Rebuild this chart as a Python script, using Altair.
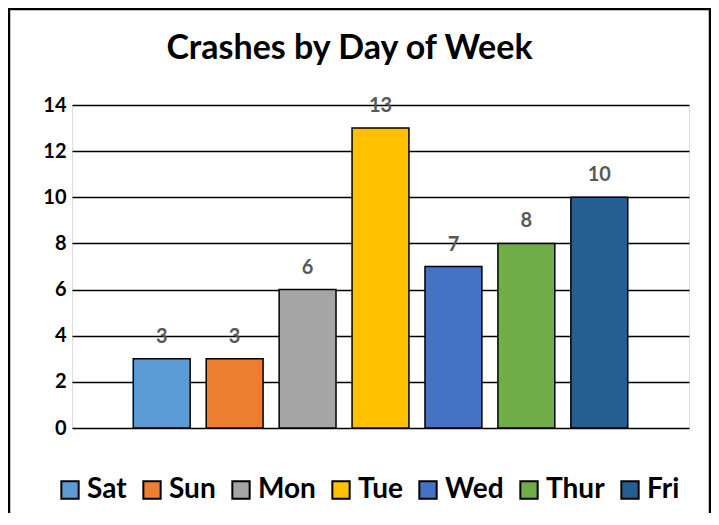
import altair as alt
import pandas as pd

days = ["Sat", "Sun", "Mon", "Tue", "Wed", "Thur", "Fri"]
crashes = [3, 3, 6, 13, 7, 8, 10]
colors = ["#5B9BD5", "#ED7D31", "#A5A5A5", "#FFC000", "#4472C4", "#70AD47", "#255E91"]
y_ticks = [0, 2, 4, 6, 8, 10, 12, 14]

df = pd.DataFrame({"day": days, "crashes": crashes})

FONT = "Lato"
W, H = 617, 323

x_enc = alt.X("day:N", sort=days, axis=None,
              scale=alt.Scale(paddingInner=0.22, paddingOuter=0.84))
y_enc = alt.Y("crashes:Q", title=None,
              scale=alt.Scale(domain=[0, 14], nice=False),
              axis=alt.Axis(values=y_ticks, domain=False, ticks=False, grid=True,
                            gridColor="#000000", gridWidth=1.6, labelFont=FONT,
                            labelFontSize=20, labelFontWeight="bold", labelColor="#000000",
                            labelPadding=6))

frame = alt.Chart(pd.DataFrame({"a": [0]})).mark_rect(
    fill=None, stroke="#000000", strokeWidth=2.5
).encode(x=alt.value(-63), x2=alt.value(638), y=alt.value(-96), y2=alt.value(420))

bars = alt.Chart(df).mark_bar(stroke="#000000", strokeWidth=1.5).encode(
    x=x_enc,
    y=y_enc,
    color=alt.Color("day:N", sort=days,
                    scale=alt.Scale(domain=days, range=colors),
                    legend=alt.Legend(title=None, orient="none", direction="horizontal",
                                      legendX=-16, legendY=371,
                                      symbolType="square", symbolSize=300,
                                      symbolStrokeColor="#000000", symbolStrokeWidth=2,
                                      labelFont=FONT, labelFontSize=28, labelFontWeight="bold",
                                      labelColor="#000000", labelOffset=3, columnPadding=11,
                                      labelLimit=200)),
)

labels = alt.Chart(df).mark_text(
    baseline="bottom", dy=-12, font=FONT, fontSize=20, fontWeight="bold", color="#595959"
).encode(x=alt.X("day:N", sort=days), y="crashes:Q", text="crashes:Q")

chart = alt.layer(frame, bars, labels).properties(
    width=W, height=H,
    padding={"left": 64, "top": 97, "right": 22, "bottom": 85},
    autosize=alt.AutoSizeParams(type="none"),
    title=alt.TitleParams("Crashes by Day of Week", font=FONT, fontSize=34,
                          fontWeight="bold", color="#000000", anchor="middle",
                          dx=-31, offset=-85, baseline="alphabetic"),
).configure_view(stroke=None).configure(background="#ffffff")

chart.save("out.html", embed_options={"renderer": "svg", "actions": False})
